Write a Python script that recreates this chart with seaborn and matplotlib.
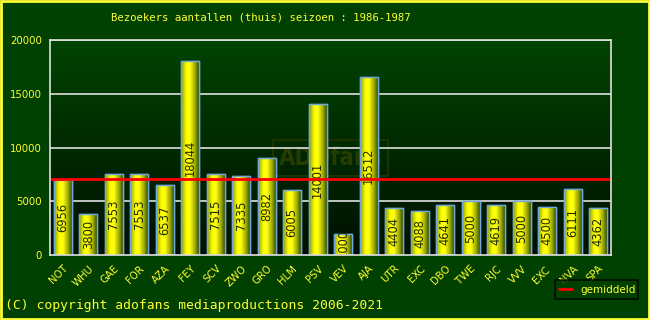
import numpy as np
import pandas as pd
import matplotlib
matplotlib.use("Agg")
import matplotlib.pyplot as plt
import seaborn as sns
from matplotlib.colors import LinearSegmentedColormap
from matplotlib.patches import Rectangle
from matplotlib.lines import Line2D

teams = ["NOT", "WHU", "GAE", "FOR", "AZA", "FEY", "SCV", "ZWO", "GRO", "HLM", "PSV",
         "VEV", "AJA", "UTR", "EXC", "DBO", "TWE", "RJC", "VVV", "EXC ", "NVA", "SPA"]
visitors = [6956, 3800, 7553, 7553, 6537, 18044, 7515, 7335, 8982, 6005, 14001,
            2000, 16512, 4404, 4088, 4641, 5000, 4619, 5000, 4500, 6111, 4362]
title = "Bezoekers aantallen (thuis) seizoen : 1986-1987"
copyright_text = "(C) copyright adofans mediaproductions 2006-2021"
legend_label = "gemiddeld"
yticks = [0, 5000, 10000, 15000, 20000]

df = pd.DataFrame({"team": teams, "visitors": visitors})
mean_val = float(np.mean(visitors))

BG = "#004000"
YEL = "#ffff33"

sns.set_theme(style="white")
plt.rcParams["font.family"] = ["DejaVu Sans"]

fig = plt.figure(figsize=(6.5, 3.2), dpi=100, facecolor=BG)
ax = fig.add_axes([50/650, 65/320, 561/650, 215/320])
ax.set_facecolor("none")

sns.barplot(data=df, x="team", y="visitors", ax=ax, width=0.7,
            color="#ffff00", edgecolor="#6fa8dc", linewidth=1.0, zorder=3)

ax.set_xlim(-0.5, len(teams) - 0.5)
ax.set_ylim(0, 20000)

# plot-area gradient background
bg_cmap = LinearSegmentedColormap.from_list("bg", ["#000f00", "#002a00", "#004400"])
grad = np.linspace(0, 1, 256).reshape(-1, 1)
ax.imshow(grad, cmap=bg_cmap, aspect="auto", origin="lower",
          extent=[-0.5, len(teams) - 0.5, 0, 20000], zorder=0)

# watermark
ax.text(10.5, 9000, "ADOfans", fontsize=17, fontweight="bold", color="#263c00",
        ha="center", va="center", zorder=1, fontstretch="condensed",
        bbox=dict(boxstyle="square,pad=0.25", facecolor="none", edgecolor="#1e3400", lw=1.5))

# gridlines
for t in yticks[1:]:
    ax.axhline(t, color="#e0e0e0", lw=1.2, zorder=2)

# bar gradient
bar_cmap = LinearSegmentedColormap.from_list(
    "bar", [(0.0, "#8a9a00"), (0.3, "#ffff00"), (0.5, "#ffff10"), (0.78, "#a0aa00"), (1.0, "#2e5200")])
hgrad = np.linspace(0, 1, 256).reshape(1, -1)
for p in ax.patches:
    x0, w, h = p.get_x(), p.get_width(), p.get_height()
    im = ax.imshow(hgrad, cmap=bar_cmap, aspect="auto",
                   extent=[x0, x0 + w, 0, h], zorder=3.5)
    im.set_clip_path(p)
    edge = Rectangle((x0, 0), w, h, fill=False, edgecolor="#6fa8dc", lw=1.0, zorder=4)
    ax.add_patch(edge)

# value labels
for i, v in enumerate(visitors):
    ax.text(i, v / 2, str(v), rotation=90, ha="center", va="center",
            fontsize=8.3, color="#1e2a00", zorder=5)

# mean line
ax.axhline(mean_val, color="#ff0000", lw=2, zorder=6)

ax.set_yticks(yticks)
ax.set_yticklabels([str(t) for t in yticks], color=YEL, fontsize=7.3)
ax.set_xticks(range(len(teams)))
ax.set_xticklabels(teams, rotation=45, ha="right", rotation_mode="anchor",
                   color=YEL, fontsize=7.3)
ax.tick_params(axis="both", length=0, pad=6)
ax.set_xlabel("")
ax.set_ylabel("")
for s in ax.spines.values():
    s.set_color("#e0e0e0")
    s.set_linewidth(1.2)
    s.set_zorder(7)

fig.text(111/650, 1 - 17/320, title, family="DejaVu Sans Mono", fontsize=7.7,
         color=YEL, ha="left", va="center")
fig.text(5/650, 1 - 305/320, copyright_text, family="DejaVu Sans Mono", fontsize=9.4,
         color=YEL, ha="left", va="center")

handle = Line2D([0], [0], color="#ff0000", lw=2)
leg = fig.legend([handle], [legend_label], loc="lower left",
                 bbox_to_anchor=(550/650, (320-304)/320, 93/650, 22/320),
                 mode="expand", frameon=True, fancybox=False, fontsize=7.5,
                 handlelength=1.2, borderpad=0.4, labelcolor=YEL)
leg.get_frame().set_facecolor(BG)
leg.get_frame().set_edgecolor("#000000")
leg.get_frame().set_linewidth(1.2)
leg.set_zorder(20)

fig.patches.append(Rectangle((0.001, 0.002), 0.997, 0.995, transform=fig.transFigure,
                             fill=False, edgecolor=YEL, lw=2, zorder=30))

fig.savefig("out.png", dpi=100, facecolor=BG)
